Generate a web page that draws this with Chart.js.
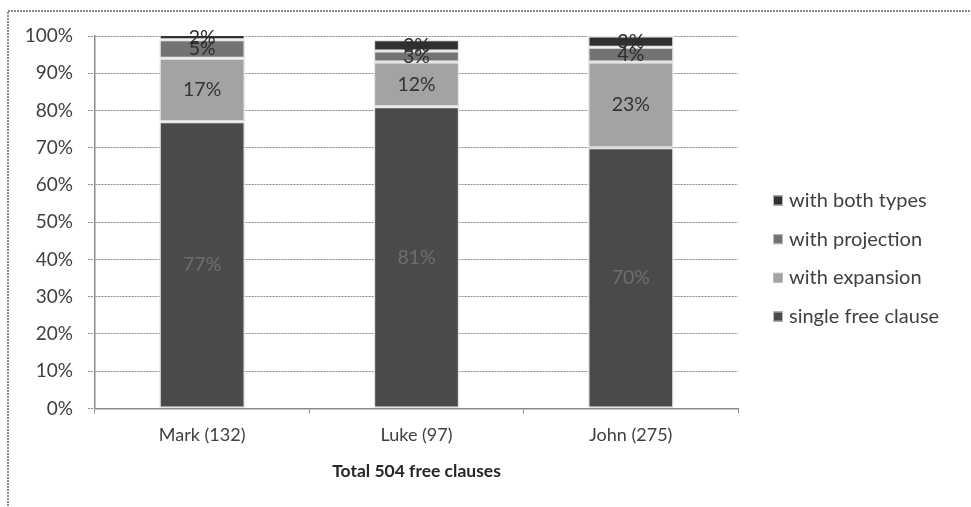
<!DOCTYPE html>
<html>
<head>
<meta charset="utf-8">
<script src="https://cdn.jsdelivr.net/npm/chart.js@4"></script>
<style>
  html, body { margin: 0; padding: 0; background: #fff; }
  #wrap { width: 971px; height: 507px; position: relative; }
</style>
</head>
<body>
<div id="wrap"><canvas id="c" width="971" height="507"></canvas></div>
<script>
// Free clause types per gospel, as percentages of each gospel's total
const gospels = ['Mark (132)', 'Luke (97)', 'John (275)'];
const singleFree = [77, 81, 70];
const withExpansion = [17, 12, 23];
const withProjection = [5, 3, 4];
const withBoth = [2, 3, 3];
const percentTicks = [0, 10, 20, 30, 40, 50, 60, 70, 80, 90, 100];
const axisTitle = 'Total 504 free clauses';

const FONT = "Lato, 'Open Sans', sans-serif";

// White background and the thin frame around the chart
const framePlugin = {
  id: 'frame',
  beforeDraw(chart) {
    const ctx = chart.ctx;
    ctx.save();
    ctx.fillStyle = '#fff';
    ctx.fillRect(0, 0, chart.width, chart.height);
    ctx.strokeStyle = '#8a8a8a';
    ctx.lineWidth = 2;
    ctx.setLineDash([2, 1]);
    ctx.strokeRect(8, 11, chart.width + 20, chart.height + 20);
    ctx.restore();
  }
};

// Percentage labels centred in each stacked segment
const segmentLabels = {
  id: 'segmentLabels',
  afterDatasetsDraw(chart) {
    const ctx = chart.ctx;
    ctx.save();
    ctx.font = "19.5px " + FONT;
    ctx.textAlign = 'center';
    ctx.textBaseline = 'middle';
    chart.data.datasets.forEach((ds, i) => {
      const meta = chart.getDatasetMeta(i);
      meta.data.forEach((bar, j) => {
        const p = bar.getProps(['x', 'y', 'base'], true);
        const top = Math.max(p.y, chart.chartArea.top);
        const cy = (top + p.base) / 2;
        ctx.fillStyle = ds.labelColor;
        ctx.fillText(ds.data[j] + '%', p.x, cy);
      });
    });
    ctx.restore();
  }
};

// Legend listed top-down from the highest stack segment
const sideLegend = {
  id: 'sideLegend',
  afterDraw(chart) {
    const ctx = chart.ctx;
    const area = chart.chartArea;
    const items = chart.data.datasets.slice().reverse();
    const rowH = 38.7;
    const midY = chart.height / 2 + 5;
    const startY = midY - rowH * (items.length - 1) / 2;
    const boxX = area.right + 35;
    ctx.save();
    ctx.font = "20px " + FONT;
    ctx.textBaseline = 'middle';
    ctx.textAlign = 'left';
    items.forEach((ds, k) => {
      const y = startY + k * rowH;
      ctx.fillStyle = ds.backgroundColor;
      ctx.fillRect(boxX, y - 5, 10, 10);
      ctx.strokeStyle = '#bbb';
      ctx.lineWidth = 1;
      ctx.strokeRect(boxX + 0.5, y - 4.5, 9, 9);
      ctx.fillStyle = '#404040';
      ctx.fillText(ds.label, boxX + 16, y);
    });
    ctx.restore();
  }
};

const seg = (label, data, color, labelColor) => ({
  label, data,
  backgroundColor: color,
  borderColor: '#e6e6e6',
  borderWidth: 1.5,
  borderSkipped: false,
  labelColor,
  categoryPercentage: 1.0,
  barPercentage: 0.4
});

new Chart(document.getElementById('c'), {
  type: 'bar',
  data: {
    labels: gospels,
    datasets: [
      seg('single free clause', singleFree, '#4a4a4a', '#6e6e6e'),
      seg('with expansion', withExpansion, '#a3a3a3', '#333333'),
      seg('with projection', withProjection, '#737373', '#2e2e2e'),
      seg('with both types', withBoth, '#303030', '#2e2e2e')
    ]
  },
  options: {
    responsive: false,
    animation: false,
    devicePixelRatio: 1,
    layout: { padding: { left: 0, top: 36, right: 233, bottom: 25 } },
    plugins: { legend: { display: false }, tooltip: { enabled: false } },
    scales: {
      x: {
        stacked: true,
        grid: {
          display: true,
          offset: true,
          drawOnChartArea: false,
          tickLength: 5,
          color: '#8a8a8a'
        },
        border: { color: '#8a8a8a', width: 1.5, dash: [2, 1] },
        ticks: { color: '#404040', font: { family: FONT, size: 18 }, padding: 11 },
        title: {
          display: true,
          text: axisTitle,
          color: '#262626',
          font: { family: FONT, size: 17.5, weight: 'bold' },
          padding: { top: 4, bottom: 0 }
        }
      },
      y: {
        stacked: true,
        min: 0,
        max: 100,
        afterBuildTicks(scale) { scale.ticks = percentTicks.map(v => ({ value: v })); },
        afterFit(scale) { scale.width = 95; },
        grid: {
          color: '#8a8a8a',
          lineWidth: 1,
          tickLength: 7,
          tickBorderDash: [2, 1]
        },
        border: { color: '#8a8a8a', width: 1.5, dash: [2, 1] },
        ticks: {
          color: '#404040',
          font: { family: FONT, size: 19 },
          padding: 15,
          callback: v => v + '%'
        }
      }
    }
  },
  plugins: [framePlugin, segmentLabels, sideLegend]
});
</script>
</body>
</html>
